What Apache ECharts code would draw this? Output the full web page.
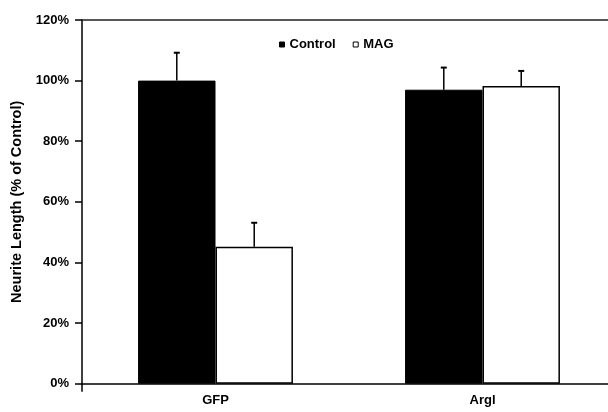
<!DOCTYPE html>
<html>
<head>
<meta charset="utf-8">
<script src="https://cdn.jsdelivr.net/npm/echarts@6/dist/echarts.min.js"></script>
<style>html,body{margin:0;padding:0;background:#fff;overflow:hidden;width:608px;height:412px}#c{width:620px;height:412px}</style>
</head>
<body>
<div id="c"></div>
<script>
var categories = ['GFP', 'Argl'];
var controlValues = [100, 97];
var magValues = [45.2, 98.2];
var controlErr = [9.2, 7.3];
var magErr = [7.9, 5.0];
var yTicks = [0, 20, 40, 60, 80, 100, 120];

var FONT = '"Liberation Sans", Arial, sans-serif';
var chart = echarts.init(document.getElementById('c'));

function errSeries(name, vals, errs, offsetIdx) {
  return {
    type: 'custom',
    name: name,
    z: 1,
    data: vals.map(function (v, i) { return [i, v, v + errs[i]]; }),
    renderItem: function (params, api) {
      var ci = api.value(0);
      var base = api.coord([ci, api.value(1)]);
      var top = api.coord([ci, api.value(2)]);
      var bw = api.size([1, 0])[0];
      var barW = bw * 0.29;
      var x = base[0] + (offsetIdx === 0 ? -barW / 2 : barW / 2);
      var style = { stroke: '#000', lineWidth: 1.5 };
      return {
        type: 'group',
        children: [
          { type: 'line', shape: { x1: x, y1: base[1], x2: x, y2: top[1] }, style: style },
          { type: 'line', shape: { x1: x - 3, y1: top[1], x2: x + 3, y2: top[1] }, style: { stroke: '#000', lineWidth: 2 } }
        ]
      };
    }
  };
}

chart.setOption({
  animation: false,
  backgroundColor: '#fff',
  textStyle: { fontFamily: FONT },
  grid: { left: 82, top: 20, width: 534, height: 363.7 },
  legend: {
    data: [
      { name: 'Control', itemStyle: { color: '#000', borderColor: '#000', borderWidth: 1 } },
      { name: 'MAG', itemStyle: { color: '#fff', borderColor: '#000', borderWidth: 1 } }
    ],
    left: 274, top: 33,
    icon: 'rect', itemWidth: 5, itemHeight: 5, itemGap: 17,
    textStyle: { fontFamily: FONT, fontWeight: 'bold', fontSize: 13, color: '#000' }
  },
  xAxis: [{
    type: 'category',
    data: categories,
    axisLine: { lineStyle: { color: '#000', width: 1.5 } },
    axisTick: { show: true, length: 8, interval: function (i) { return i === 0; }, lineStyle: { color: '#000', width: 1.5 } },
    axisLabel: { color: '#000', fontWeight: 'bold', fontSize: 13, fontFamily: FONT, margin: 10 }
  }, {
    type: 'category',
    position: 'top',
    data: categories,
    axisLine: { show: true, lineStyle: { color: '#222', width: 1.5 } },
    axisTick: { show: false },
    axisLabel: { show: false }
  }],
  yAxis: {
    type: 'value',
    min: 0, max: 120, interval: 20,
    name: 'Neurite Length (% of Control)',
    nameLocation: 'middle',
    nameGap: 55,
    nameTextStyle: { color: '#000', fontWeight: 'bold', fontSize: 14.5, fontFamily: FONT },
    axisLine: { show: true, lineStyle: { color: '#000', width: 1.5 } },
    axisTick: { show: true, length: 7, lineStyle: { color: '#000', width: 1.5 } },
    splitLine: { show: false },
    axisLabel: { color: '#000', fontWeight: 'bold', fontSize: 13, fontFamily: FONT, margin: 13,
      formatter: function (v) { return yTicks.indexOf(v) >= 0 ? v + '%' : ''; } }
  },
  series: [
    errSeries('errC', controlValues, controlErr, 0),
    errSeries('errM', magValues, magErr, 1),
    {
      name: 'Control', type: 'bar', data: controlValues, z: 2,
      barGap: '0%', barCategoryGap: '42%',
      itemStyle: { color: '#000', borderColor: '#000', borderWidth: 1 }
    },
    {
      name: 'MAG', type: 'bar', data: magValues, z: 2,
      itemStyle: { color: '#fff', borderColor: '#000', borderWidth: 1.5 }
    }
  ]
});
</script>
</body>
</html>
